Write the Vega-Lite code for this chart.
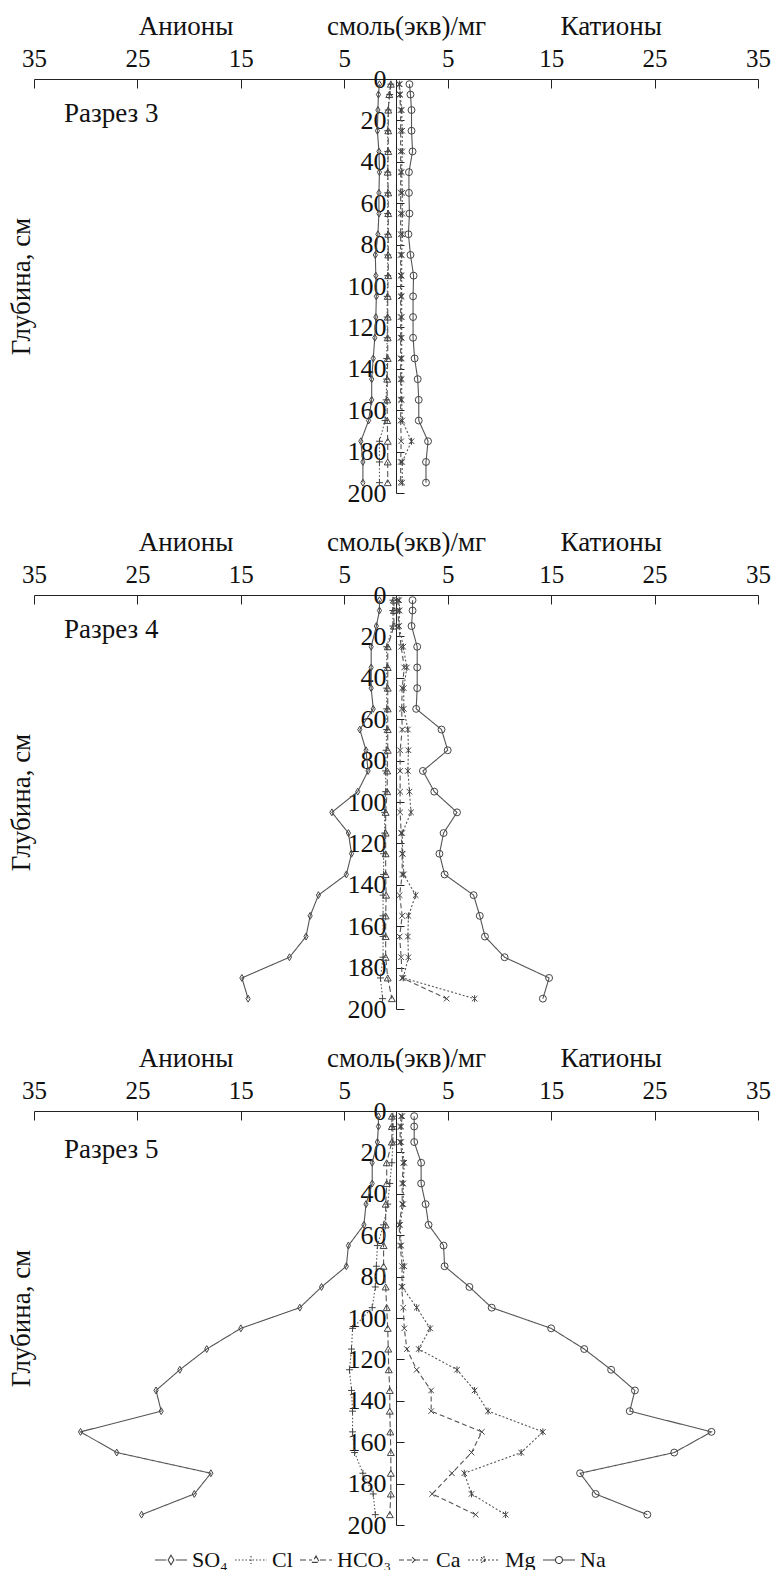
{
"$schema": "https://vega.github.io/schema/vega-lite/v6.json",
"background": "white",
"padding": {"left": 7, "top": 12, "right": 0, "bottom": 0},
"bounds": "flush",
"spacing": 102,
"config": {
  "font": "Liberation Serif",
  "view": {"stroke": null},
  "axis": {"labelFont": "Liberation Serif", "titleFont": "Liberation Serif", "labelFontSize": 25, "titleFontSize": 27, "labelColor": "#111", "titleColor": "#111", "domainColor": "#222", "tickColor": "#222", "grid": false, "titleFontWeight": "normal", "domainWidth": 1, "tickWidth": 1},
  "legend": {"labelFont": "Liberation Serif"},
  "text": {"font": "Liberation Serif"}
},
"datasets": {
"notes": [
{"panel":3,"kind":"section","label":"Разрез 3","x":-32.1,"depth":17},
{"panel":4,"kind":"section","label":"Разрез 4","x":-32.1,"depth":17},
{"panel":5,"kind":"section","label":"Разрез 5","x":-32.1,"depth":19},
{"panel":3,"kind":"head","label":"Анионы","x":-20.3,"depth":-25},
{"panel":3,"kind":"head","label":"Катионы","x":20.8,"depth":-25},
{"panel":4,"kind":"head","label":"Анионы","x":-20.3,"depth":-25},
{"panel":4,"kind":"head","label":"Катионы","x":20.8,"depth":-25},
{"panel":5,"kind":"head","label":"Анионы","x":-20.3,"depth":-25},
{"panel":5,"kind":"head","label":"Катионы","x":20.8,"depth":-25}
],
"ions": [
{"panel":3,"ion":"SO₄","depth":2.5,"value":-1.6},{"panel":3,"ion":"SO₄","depth":7.5,"value":-1.7},{"panel":3,"ion":"SO₄","depth":15,"value":-1.75},{"panel":3,"ion":"SO₄","depth":25,"value":-1.8},{"panel":3,"ion":"SO₄","depth":35,"value":-1.65},{"panel":3,"ion":"SO₄","depth":45,"value":-1.6},{"panel":3,"ion":"SO₄","depth":55,"value":-1.65},{"panel":3,"ion":"SO₄","depth":65,"value":-1.65},{"panel":3,"ion":"SO₄","depth":75,"value":-1.75},{"panel":3,"ion":"SO₄","depth":85,"value":-2.0},{"panel":3,"ion":"SO₄","depth":95,"value":-1.95},{"panel":3,"ion":"SO₄","depth":105,"value":-1.9},{"panel":3,"ion":"SO₄","depth":115,"value":-1.95},{"panel":3,"ion":"SO₄","depth":125,"value":-2.05},{"panel":3,"ion":"SO₄","depth":135,"value":-2.2},{"panel":3,"ion":"SO₄","depth":145,"value":-2.35},{"panel":3,"ion":"SO₄","depth":155,"value":-2.35},{"panel":3,"ion":"SO₄","depth":165,"value":-2.65},{"panel":3,"ion":"SO₄","depth":175,"value":-3.4},{"panel":3,"ion":"SO₄","depth":185,"value":-3.2},{"panel":3,"ion":"SO₄","depth":195,"value":-3.2},
{"panel":3,"ion":"Cl","depth":2.5,"value":-0.5},{"panel":3,"ion":"Cl","depth":7.5,"value":-0.6},{"panel":3,"ion":"Cl","depth":15,"value":-0.75},{"panel":3,"ion":"Cl","depth":25,"value":-0.8},{"panel":3,"ion":"Cl","depth":35,"value":-0.8},{"panel":3,"ion":"Cl","depth":45,"value":-0.8},{"panel":3,"ion":"Cl","depth":55,"value":-0.8},{"panel":3,"ion":"Cl","depth":65,"value":-0.8},{"panel":3,"ion":"Cl","depth":75,"value":-0.8},{"panel":3,"ion":"Cl","depth":85,"value":-0.8},{"panel":3,"ion":"Cl","depth":95,"value":-0.8},{"panel":3,"ion":"Cl","depth":105,"value":-0.85},{"panel":3,"ion":"Cl","depth":115,"value":-0.85},{"panel":3,"ion":"Cl","depth":125,"value":-0.85},{"panel":3,"ion":"Cl","depth":135,"value":-0.9},{"panel":3,"ion":"Cl","depth":145,"value":-0.9},{"panel":3,"ion":"Cl","depth":155,"value":-0.95},{"panel":3,"ion":"Cl","depth":165,"value":-1.05},{"panel":3,"ion":"Cl","depth":175,"value":-1.6},{"panel":3,"ion":"Cl","depth":185,"value":-1.6},{"panel":3,"ion":"Cl","depth":195,"value":-1.6},
{"panel":3,"ion":"HCO₃","depth":2.5,"value":-0.5},{"panel":3,"ion":"HCO₃","depth":7.5,"value":-0.65},{"panel":3,"ion":"HCO₃","depth":15,"value":-0.75},{"panel":3,"ion":"HCO₃","depth":25,"value":-0.75},{"panel":3,"ion":"HCO₃","depth":35,"value":-0.75},{"panel":3,"ion":"HCO₃","depth":45,"value":-0.8},{"panel":3,"ion":"HCO₃","depth":55,"value":-0.75},{"panel":3,"ion":"HCO₃","depth":65,"value":-0.75},{"panel":3,"ion":"HCO₃","depth":75,"value":-0.75},{"panel":3,"ion":"HCO₃","depth":85,"value":-0.75},{"panel":3,"ion":"HCO₃","depth":95,"value":-0.75},{"panel":3,"ion":"HCO₃","depth":105,"value":-0.8},{"panel":3,"ion":"HCO₃","depth":115,"value":-0.8},{"panel":3,"ion":"HCO₃","depth":125,"value":-0.8},{"panel":3,"ion":"HCO₃","depth":135,"value":-0.8},{"panel":3,"ion":"HCO₃","depth":145,"value":-0.85},{"panel":3,"ion":"HCO₃","depth":155,"value":-0.85},{"panel":3,"ion":"HCO₃","depth":165,"value":-0.85},{"panel":3,"ion":"HCO₃","depth":175,"value":-0.8},{"panel":3,"ion":"HCO₃","depth":185,"value":-0.8},{"panel":3,"ion":"HCO₃","depth":195,"value":-0.8},
{"panel":3,"ion":"Ca","depth":2.5,"value":0.3},{"panel":3,"ion":"Ca","depth":7.5,"value":0.35},{"panel":3,"ion":"Ca","depth":15,"value":0.45},{"panel":3,"ion":"Ca","depth":25,"value":0.45},{"panel":3,"ion":"Ca","depth":35,"value":0.45},{"panel":3,"ion":"Ca","depth":45,"value":0.45},{"panel":3,"ion":"Ca","depth":55,"value":0.45},{"panel":3,"ion":"Ca","depth":65,"value":0.45},{"panel":3,"ion":"Ca","depth":75,"value":0.45},{"panel":3,"ion":"Ca","depth":85,"value":0.45},{"panel":3,"ion":"Ca","depth":95,"value":0.45},{"panel":3,"ion":"Ca","depth":105,"value":0.45},{"panel":3,"ion":"Ca","depth":115,"value":0.45},{"panel":3,"ion":"Ca","depth":125,"value":0.45},{"panel":3,"ion":"Ca","depth":135,"value":0.45},{"panel":3,"ion":"Ca","depth":145,"value":0.45},{"panel":3,"ion":"Ca","depth":155,"value":0.45},{"panel":3,"ion":"Ca","depth":165,"value":0.45},{"panel":3,"ion":"Ca","depth":175,"value":0.5},{"panel":3,"ion":"Ca","depth":185,"value":0.45},{"panel":3,"ion":"Ca","depth":195,"value":0.45},
{"panel":3,"ion":"Mg","depth":2.5,"value":0.35},{"panel":3,"ion":"Mg","depth":7.5,"value":0.4},{"panel":3,"ion":"Mg","depth":15,"value":0.55},{"panel":3,"ion":"Mg","depth":25,"value":0.6},{"panel":3,"ion":"Mg","depth":35,"value":0.6},{"panel":3,"ion":"Mg","depth":45,"value":0.55},{"panel":3,"ion":"Mg","depth":55,"value":0.6},{"panel":3,"ion":"Mg","depth":65,"value":0.6},{"panel":3,"ion":"Mg","depth":75,"value":0.6},{"panel":3,"ion":"Mg","depth":85,"value":0.55},{"panel":3,"ion":"Mg","depth":95,"value":0.55},{"panel":3,"ion":"Mg","depth":105,"value":0.55},{"panel":3,"ion":"Mg","depth":115,"value":0.55},{"panel":3,"ion":"Mg","depth":125,"value":0.55},{"panel":3,"ion":"Mg","depth":135,"value":0.55},{"panel":3,"ion":"Mg","depth":145,"value":0.55},{"panel":3,"ion":"Mg","depth":155,"value":0.55},{"panel":3,"ion":"Mg","depth":165,"value":0.6},{"panel":3,"ion":"Mg","depth":175,"value":1.5},{"panel":3,"ion":"Mg","depth":185,"value":0.6},{"panel":3,"ion":"Mg","depth":195,"value":0.6},
{"panel":3,"ion":"Na","depth":2.5,"value":1.3},{"panel":3,"ion":"Na","depth":7.5,"value":1.4},{"panel":3,"ion":"Na","depth":15,"value":1.5},{"panel":3,"ion":"Na","depth":25,"value":1.5},{"panel":3,"ion":"Na","depth":35,"value":1.6},{"panel":3,"ion":"Na","depth":45,"value":1.25},{"panel":3,"ion":"Na","depth":55,"value":1.25},{"panel":3,"ion":"Na","depth":65,"value":1.3},{"panel":3,"ion":"Na","depth":75,"value":1.2},{"panel":3,"ion":"Na","depth":85,"value":1.4},{"panel":3,"ion":"Na","depth":95,"value":1.7},{"panel":3,"ion":"Na","depth":105,"value":1.65},{"panel":3,"ion":"Na","depth":115,"value":1.65},{"panel":3,"ion":"Na","depth":125,"value":1.65},{"panel":3,"ion":"Na","depth":135,"value":1.8},{"panel":3,"ion":"Na","depth":145,"value":2.1},{"panel":3,"ion":"Na","depth":155,"value":2.2},{"panel":3,"ion":"Na","depth":165,"value":2.2},{"panel":3,"ion":"Na","depth":175,"value":3.1},{"panel":3,"ion":"Na","depth":185,"value":2.9},{"panel":3,"ion":"Na","depth":195,"value":2.9},
{"panel":4,"ion":"SO₄","depth":2.5,"value":-1.6},{"panel":4,"ion":"SO₄","depth":7.5,"value":-1.6},{"panel":4,"ion":"SO₄","depth":15,"value":-1.9},{"panel":4,"ion":"SO₄","depth":25,"value":-2.4},{"panel":4,"ion":"SO₄","depth":35,"value":-2.4},{"panel":4,"ion":"SO₄","depth":45,"value":-2.4},{"panel":4,"ion":"SO₄","depth":55,"value":-2.2},{"panel":4,"ion":"SO₄","depth":65,"value":-3.5},{"panel":4,"ion":"SO₄","depth":75,"value":-2.9},{"panel":4,"ion":"SO₄","depth":85,"value":-2.7},{"panel":4,"ion":"SO₄","depth":95,"value":-3.7},{"panel":4,"ion":"SO₄","depth":105,"value":-6.2},{"panel":4,"ion":"SO₄","depth":115,"value":-4.6},{"panel":4,"ion":"SO₄","depth":125,"value":-4.3},{"panel":4,"ion":"SO₄","depth":135,"value":-4.8},{"panel":4,"ion":"SO₄","depth":145,"value":-7.5},{"panel":4,"ion":"SO₄","depth":155,"value":-8.3},{"panel":4,"ion":"SO₄","depth":165,"value":-8.7},{"panel":4,"ion":"SO₄","depth":175,"value":-10.3},{"panel":4,"ion":"SO₄","depth":185,"value":-14.9},{"panel":4,"ion":"SO₄","depth":195,"value":-14.3},
{"panel":4,"ion":"Cl","depth":2.5,"value":-0.3},{"panel":4,"ion":"Cl","depth":7.5,"value":-0.3},{"panel":4,"ion":"Cl","depth":15,"value":-0.3},{"panel":4,"ion":"Cl","depth":25,"value":-0.9},{"panel":4,"ion":"Cl","depth":35,"value":-0.9},{"panel":4,"ion":"Cl","depth":45,"value":-0.9},{"panel":4,"ion":"Cl","depth":55,"value":-0.9},{"panel":4,"ion":"Cl","depth":65,"value":-0.9},{"panel":4,"ion":"Cl","depth":75,"value":-0.95},{"panel":4,"ion":"Cl","depth":85,"value":-1.0},{"panel":4,"ion":"Cl","depth":95,"value":-1.0},{"panel":4,"ion":"Cl","depth":105,"value":-1.1},{"panel":4,"ion":"Cl","depth":115,"value":-1.1},{"panel":4,"ion":"Cl","depth":125,"value":-1.2},{"panel":4,"ion":"Cl","depth":135,"value":-1.2},{"panel":4,"ion":"Cl","depth":145,"value":-1.25},{"panel":4,"ion":"Cl","depth":155,"value":-1.25},{"panel":4,"ion":"Cl","depth":165,"value":-1.25},{"panel":4,"ion":"Cl","depth":175,"value":-1.25},{"panel":4,"ion":"Cl","depth":185,"value":-1.5},{"panel":4,"ion":"Cl","depth":195,"value":-1.3},
{"panel":4,"ion":"HCO₃","depth":2.5,"value":-0.2},{"panel":4,"ion":"HCO₃","depth":7.5,"value":-0.2},{"panel":4,"ion":"HCO₃","depth":15,"value":-0.2},{"panel":4,"ion":"HCO₃","depth":25,"value":-0.8},{"panel":4,"ion":"HCO₃","depth":35,"value":-0.8},{"panel":4,"ion":"HCO₃","depth":45,"value":-0.8},{"panel":4,"ion":"HCO₃","depth":55,"value":-0.8},{"panel":4,"ion":"HCO₃","depth":65,"value":-0.8},{"panel":4,"ion":"HCO₃","depth":75,"value":-0.8},{"panel":4,"ion":"HCO₃","depth":85,"value":-0.85},{"panel":4,"ion":"HCO₃","depth":95,"value":-0.85},{"panel":4,"ion":"HCO₃","depth":105,"value":-1.0},{"panel":4,"ion":"HCO₃","depth":115,"value":-1.0},{"panel":4,"ion":"HCO₃","depth":125,"value":-1.0},{"panel":4,"ion":"HCO₃","depth":135,"value":-1.0},{"panel":4,"ion":"HCO₃","depth":145,"value":-0.95},{"panel":4,"ion":"HCO₃","depth":155,"value":-1.0},{"panel":4,"ion":"HCO₃","depth":165,"value":-1.0},{"panel":4,"ion":"HCO₃","depth":175,"value":-1.0},{"panel":4,"ion":"HCO₃","depth":185,"value":-0.8},{"panel":4,"ion":"HCO₃","depth":195,"value":-0.4},
{"panel":4,"ion":"Ca","depth":2.5,"value":0.2},{"panel":4,"ion":"Ca","depth":7.5,"value":0.2},{"panel":4,"ion":"Ca","depth":15,"value":0.25},{"panel":4,"ion":"Ca","depth":25,"value":0.5},{"panel":4,"ion":"Ca","depth":35,"value":0.8},{"panel":4,"ion":"Ca","depth":45,"value":0.6},{"panel":4,"ion":"Ca","depth":55,"value":0.55},{"panel":4,"ion":"Ca","depth":65,"value":0.6},{"panel":4,"ion":"Ca","depth":75,"value":0.4},{"panel":4,"ion":"Ca","depth":85,"value":0.4},{"panel":4,"ion":"Ca","depth":95,"value":0.4},{"panel":4,"ion":"Ca","depth":105,"value":0.4},{"panel":4,"ion":"Ca","depth":115,"value":0.5},{"panel":4,"ion":"Ca","depth":125,"value":0.6},{"panel":4,"ion":"Ca","depth":135,"value":0.6},{"panel":4,"ion":"Ca","depth":145,"value":0.35},{"panel":4,"ion":"Ca","depth":155,"value":0.6},{"panel":4,"ion":"Ca","depth":165,"value":0.35},{"panel":4,"ion":"Ca","depth":175,"value":0.5},{"panel":4,"ion":"Ca","depth":185,"value":0.6},{"panel":4,"ion":"Ca","depth":195,"value":4.9},
{"panel":4,"ion":"Mg","depth":2.5,"value":0.3},{"panel":4,"ion":"Mg","depth":7.5,"value":0.35},{"panel":4,"ion":"Mg","depth":15,"value":0.3},{"panel":4,"ion":"Mg","depth":25,"value":0.7},{"panel":4,"ion":"Mg","depth":35,"value":1.05},{"panel":4,"ion":"Mg","depth":45,"value":0.75},{"panel":4,"ion":"Mg","depth":55,"value":0.75},{"panel":4,"ion":"Mg","depth":65,"value":1.15},{"panel":4,"ion":"Mg","depth":75,"value":1.2},{"panel":4,"ion":"Mg","depth":85,"value":1.15},{"panel":4,"ion":"Mg","depth":95,"value":1.3},{"panel":4,"ion":"Mg","depth":105,"value":1.45},{"panel":4,"ion":"Mg","depth":115,"value":0.6},{"panel":4,"ion":"Mg","depth":125,"value":0.65},{"panel":4,"ion":"Mg","depth":135,"value":0.75},{"panel":4,"ion":"Mg","depth":145,"value":1.9},{"panel":4,"ion":"Mg","depth":155,"value":1.2},{"panel":4,"ion":"Mg","depth":165,"value":1.15},{"panel":4,"ion":"Mg","depth":175,"value":1.2},{"panel":4,"ion":"Mg","depth":185,"value":0.7},{"panel":4,"ion":"Mg","depth":195,"value":7.6},
{"panel":4,"ion":"Na","depth":2.5,"value":1.6},{"panel":4,"ion":"Na","depth":7.5,"value":1.6},{"panel":4,"ion":"Na","depth":15,"value":1.5},{"panel":4,"ion":"Na","depth":25,"value":2.05},{"panel":4,"ion":"Na","depth":35,"value":2.05},{"panel":4,"ion":"Na","depth":45,"value":2.05},{"panel":4,"ion":"Na","depth":55,"value":1.95},{"panel":4,"ion":"Na","depth":65,"value":4.4},{"panel":4,"ion":"Na","depth":75,"value":5.0},{"panel":4,"ion":"Na","depth":85,"value":2.6},{"panel":4,"ion":"Na","depth":95,"value":3.7},{"panel":4,"ion":"Na","depth":105,"value":5.9},{"panel":4,"ion":"Na","depth":115,"value":4.6},{"panel":4,"ion":"Na","depth":125,"value":4.2},{"panel":4,"ion":"Na","depth":135,"value":4.7},{"panel":4,"ion":"Na","depth":145,"value":7.5},{"panel":4,"ion":"Na","depth":155,"value":8.1},{"panel":4,"ion":"Na","depth":165,"value":8.6},{"panel":4,"ion":"Na","depth":175,"value":10.5},{"panel":4,"ion":"Na","depth":185,"value":14.8},{"panel":4,"ion":"Na","depth":195,"value":14.2},
{"panel":5,"ion":"SO₄","depth":2.5,"value":-1.7},{"panel":5,"ion":"SO₄","depth":7.5,"value":-1.7},{"panel":5,"ion":"SO₄","depth":15,"value":-1.8},{"panel":5,"ion":"SO₄","depth":25,"value":-2.3},{"panel":5,"ion":"SO₄","depth":35,"value":-2.3},{"panel":5,"ion":"SO₄","depth":45,"value":-2.9},{"panel":5,"ion":"SO₄","depth":55,"value":-3.1},{"panel":5,"ion":"SO₄","depth":65,"value":-4.6},{"panel":5,"ion":"SO₄","depth":75,"value":-4.8},{"panel":5,"ion":"SO₄","depth":85,"value":-7.2},{"panel":5,"ion":"SO₄","depth":95,"value":-9.3},{"panel":5,"ion":"SO₄","depth":105,"value":-15.0},{"panel":5,"ion":"SO₄","depth":115,"value":-18.3},{"panel":5,"ion":"SO₄","depth":125,"value":-20.9},{"panel":5,"ion":"SO₄","depth":135,"value":-23.2},{"panel":5,"ion":"SO₄","depth":145,"value":-22.7},{"panel":5,"ion":"SO₄","depth":155,"value":-30.5},{"panel":5,"ion":"SO₄","depth":165,"value":-27.0},{"panel":5,"ion":"SO₄","depth":175,"value":-17.9},{"panel":5,"ion":"SO₄","depth":185,"value":-19.5},{"panel":5,"ion":"SO₄","depth":195,"value":-24.6},
{"panel":5,"ion":"Cl","depth":2.5,"value":-0.3},{"panel":5,"ion":"Cl","depth":7.5,"value":-0.3},{"panel":5,"ion":"Cl","depth":15,"value":-0.3},{"panel":5,"ion":"Cl","depth":25,"value":-0.4},{"panel":5,"ion":"Cl","depth":35,"value":-0.6},{"panel":5,"ion":"Cl","depth":45,"value":-0.8},{"panel":5,"ion":"Cl","depth":55,"value":-1.2},{"panel":5,"ion":"Cl","depth":65,"value":-1.8},{"panel":5,"ion":"Cl","depth":75,"value":-1.9},{"panel":5,"ion":"Cl","depth":85,"value":-2.0},{"panel":5,"ion":"Cl","depth":95,"value":-2.3},{"panel":5,"ion":"Cl","depth":105,"value":-4.2},{"panel":5,"ion":"Cl","depth":115,"value":-4.3},{"panel":5,"ion":"Cl","depth":125,"value":-4.5},{"panel":5,"ion":"Cl","depth":135,"value":-4.3},{"panel":5,"ion":"Cl","depth":145,"value":-4.2},{"panel":5,"ion":"Cl","depth":155,"value":-4.2},{"panel":5,"ion":"Cl","depth":165,"value":-4.0},{"panel":5,"ion":"Cl","depth":175,"value":-3.2},{"panel":5,"ion":"Cl","depth":185,"value":-2.2},{"panel":5,"ion":"Cl","depth":195,"value":-2.0},
{"panel":5,"ion":"HCO₃","depth":2.5,"value":-0.4},{"panel":5,"ion":"HCO₃","depth":7.5,"value":-0.4},{"panel":5,"ion":"HCO₃","depth":15,"value":-0.4},{"panel":5,"ion":"HCO₃","depth":25,"value":-0.9},{"panel":5,"ion":"HCO₃","depth":35,"value":-0.9},{"panel":5,"ion":"HCO₃","depth":45,"value":-1.0},{"panel":5,"ion":"HCO₃","depth":55,"value":-1.0},{"panel":5,"ion":"HCO₃","depth":65,"value":-1.2},{"panel":5,"ion":"HCO₃","depth":75,"value":-1.2},{"panel":5,"ion":"HCO₃","depth":85,"value":-1.0},{"panel":5,"ion":"HCO₃","depth":95,"value":-0.9},{"panel":5,"ion":"HCO₃","depth":105,"value":-0.8},{"panel":5,"ion":"HCO₃","depth":115,"value":-0.75},{"panel":5,"ion":"HCO₃","depth":125,"value":-0.7},{"panel":5,"ion":"HCO₃","depth":135,"value":-0.6},{"panel":5,"ion":"HCO₃","depth":145,"value":-0.6},{"panel":5,"ion":"HCO₃","depth":155,"value":-0.55},{"panel":5,"ion":"HCO₃","depth":165,"value":-0.5},{"panel":5,"ion":"HCO₃","depth":175,"value":-0.5},{"panel":5,"ion":"HCO₃","depth":185,"value":-0.5},{"panel":5,"ion":"HCO₃","depth":195,"value":-0.6},
{"panel":5,"ion":"Ca","depth":2.5,"value":0.5},{"panel":5,"ion":"Ca","depth":7.5,"value":0.4},{"panel":5,"ion":"Ca","depth":15,"value":0.4},{"panel":5,"ion":"Ca","depth":25,"value":0.7},{"panel":5,"ion":"Ca","depth":35,"value":0.6},{"panel":5,"ion":"Ca","depth":45,"value":0.6},{"panel":5,"ion":"Ca","depth":55,"value":0.3},{"panel":5,"ion":"Ca","depth":65,"value":0.4},{"panel":5,"ion":"Ca","depth":75,"value":0.6},{"panel":5,"ion":"Ca","depth":85,"value":0.55},{"panel":5,"ion":"Ca","depth":95,"value":0.7},{"panel":5,"ion":"Ca","depth":105,"value":0.8},{"panel":5,"ion":"Ca","depth":115,"value":1.05},{"panel":5,"ion":"Ca","depth":125,"value":2.0},{"panel":5,"ion":"Ca","depth":135,"value":3.4},{"panel":5,"ion":"Ca","depth":145,"value":3.4},{"panel":5,"ion":"Ca","depth":155,"value":8.3},{"panel":5,"ion":"Ca","depth":165,"value":7.3},{"panel":5,"ion":"Ca","depth":175,"value":5.4},{"panel":5,"ion":"Ca","depth":185,"value":3.5},{"panel":5,"ion":"Ca","depth":195,"value":7.7},
{"panel":5,"ion":"Mg","depth":2.5,"value":0.6},{"panel":5,"ion":"Mg","depth":7.5,"value":0.5},{"panel":5,"ion":"Mg","depth":15,"value":0.5},{"panel":5,"ion":"Mg","depth":25,"value":0.8},{"panel":5,"ion":"Mg","depth":35,"value":0.7},{"panel":5,"ion":"Mg","depth":45,"value":0.7},{"panel":5,"ion":"Mg","depth":55,"value":0.4},{"panel":5,"ion":"Mg","depth":65,"value":0.5},{"panel":5,"ion":"Mg","depth":75,"value":0.8},{"panel":5,"ion":"Mg","depth":85,"value":0.6},{"panel":5,"ion":"Mg","depth":95,"value":2.0},{"panel":5,"ion":"Mg","depth":105,"value":3.3},{"panel":5,"ion":"Mg","depth":115,"value":2.2},{"panel":5,"ion":"Mg","depth":125,"value":5.9},{"panel":5,"ion":"Mg","depth":135,"value":7.6},{"panel":5,"ion":"Mg","depth":145,"value":8.9},{"panel":5,"ion":"Mg","depth":155,"value":14.2},{"panel":5,"ion":"Mg","depth":165,"value":12.1},{"panel":5,"ion":"Mg","depth":175,"value":6.6},{"panel":5,"ion":"Mg","depth":185,"value":7.3},{"panel":5,"ion":"Mg","depth":195,"value":10.6},
{"panel":5,"ion":"Na","depth":2.5,"value":1.76},{"panel":5,"ion":"Na","depth":7.5,"value":1.76},{"panel":5,"ion":"Na","depth":15,"value":1.76},{"panel":5,"ion":"Na","depth":25,"value":2.43},{"panel":5,"ion":"Na","depth":35,"value":2.43},{"panel":5,"ion":"Na","depth":45,"value":2.86},{"panel":5,"ion":"Na","depth":55,"value":3.15},{"panel":5,"ion":"Na","depth":65,"value":4.6},{"panel":5,"ion":"Na","depth":75,"value":4.7},{"panel":5,"ion":"Na","depth":85,"value":7.1},{"panel":5,"ion":"Na","depth":95,"value":9.25},{"panel":5,"ion":"Na","depth":105,"value":15.0},{"panel":5,"ion":"Na","depth":115,"value":18.2},{"panel":5,"ion":"Na","depth":125,"value":20.8},{"panel":5,"ion":"Na","depth":135,"value":23.1},{"panel":5,"ion":"Na","depth":145,"value":22.6},{"panel":5,"ion":"Na","depth":155,"value":30.5},{"panel":5,"ion":"Na","depth":165,"value":26.9},{"panel":5,"ion":"Na","depth":175,"value":17.8},{"panel":5,"ion":"Na","depth":185,"value":19.3},{"panel":5,"ion":"Na","depth":195,"value":24.3}
]
},
"vconcat": [
{
 "width": 724, "height": 414,
 "layer": [
  {"data": {"name": "ions"}, "transform": [{"filter": "datum.panel == 3"}],
   "mark": {"type": "line", "color": "#555", "strokeWidth": 1.1},
   "encoding": {
     "x": {"field": "value", "type": "quantitative", "scale": {"domain": [-35, 35], "nice": false, "zero": false},
       "axis": {"orient": "top", "values": [-35,-25,-15,-5,5,15,25,35], "labelExpr": "abs(datum.value)", "tickSize": -9, "labelPadding": 30, "labelBaseline": "middle", "labelFlush": false, "labelOverlap": false, "title": "смоль(экв)/мг", "titleX": 372, "titleY": -53, "titleBaseline": "middle", "titleAlign": "center"}},
     "y": {"field": "depth", "type": "quantitative", "scale": {"domain": [0, 200], "nice": false, "zero": false, "reverse": true},
       "axis": {"orient": "left", "offset": -362, "values": [0,20,40,60,80,100,120,140,160,180,200], "tickSize": -8, "labelPadding": 18, "labelFontSize": 26, "labelBaseline": "middle", "labelFlush": false, "labelOverlap": false, "title": "Глубина, см", "titleX": -375, "titleY": 207, "titleAngle": -90, "titleBaseline": "middle", "titleAlign": "center"}},
     "strokeDash": {"field": "ion", "type": "nominal", "scale": {"domain": ["SO₄","Cl","HCO₃","Ca","Mg","Na"], "range": [[1,0],[1.5,2],[6,3],[5,3],[2,2],[1,0]]}, "legend": null},
     "order": {"field": "depth", "type": "quantitative"}}},
  {"data": {"name": "ions"}, "transform": [{"filter": "datum.panel == 3"}],
   "mark": {"type": "point", "filled": false, "color": "#444", "size": 48, "strokeWidth": 1, "opacity": 1},
   "encoding": {
     "x": {"field": "value", "type": "quantitative"},
     "y": {"field": "depth", "type": "quantitative"},
     "shape": {"field": "ion", "type": "nominal", "scale": {"domain": ["SO₄","Cl","HCO₃","Ca","Mg","Na"], "range": ["M0,-1L0.6,0L0,1L-0.6,0Z","M-1,0H1M0,-1V1","triangle-up","M-0.8,-0.8L0.8,0.8M-0.8,0.8L0.8,-0.8","M-0.8,-0.8L0.8,0.8M-0.8,0.8L0.8,-0.8M0,-1V1","circle"]}, "legend": null}}},
  {"data": {"name": "notes"}, "transform": [{"filter": "datum.panel == 3 && datum.kind == 'section'"}],
   "mark": {"type": "text", "align": "left", "baseline": "middle", "fontSize": 27, "color": "#111"},
   "encoding": {"x": {"field": "x", "type": "quantitative"}, "y": {"field": "depth", "type": "quantitative"}, "text": {"field": "label"}}},
  {"data": {"name": "notes"}, "transform": [{"filter": "datum.panel == 3 && datum.kind == 'head'"}],
   "mark": {"type": "text", "align": "center", "baseline": "middle", "fontSize": 27, "color": "#111"},
   "encoding": {"x": {"field": "x", "type": "quantitative"}, "y": {"field": "depth", "type": "quantitative"}, "text": {"field": "label"}}}
 ]
},
{
 "width": 724, "height": 414,
 "layer": [
  {"data": {"name": "ions"}, "transform": [{"filter": "datum.panel == 4"}],
   "mark": {"type": "line", "color": "#555", "strokeWidth": 1.1},
   "encoding": {
     "x": {"field": "value", "type": "quantitative", "scale": {"domain": [-35, 35], "nice": false, "zero": false},
       "axis": {"orient": "top", "values": [-35,-25,-15,-5,5,15,25,35], "labelExpr": "abs(datum.value)", "tickSize": -9, "labelPadding": 30, "labelBaseline": "middle", "labelFlush": false, "labelOverlap": false, "title": "смоль(экв)/мг", "titleX": 372, "titleY": -53, "titleBaseline": "middle", "titleAlign": "center"}},
     "y": {"field": "depth", "type": "quantitative", "scale": {"domain": [0, 200], "nice": false, "zero": false, "reverse": true},
       "axis": {"orient": "left", "offset": -362, "values": [0,20,40,60,80,100,120,140,160,180,200], "tickSize": -8, "labelPadding": 18, "labelFontSize": 26, "labelBaseline": "middle", "labelFlush": false, "labelOverlap": false, "title": "Глубина, см", "titleX": -375, "titleY": 207, "titleAngle": -90, "titleBaseline": "middle", "titleAlign": "center"}},
     "strokeDash": {"field": "ion", "type": "nominal", "scale": {"domain": ["SO₄","Cl","HCO₃","Ca","Mg","Na"], "range": [[1,0],[1.5,2],[6,3],[5,3],[2,2],[1,0]]}, "legend": null},
     "order": {"field": "depth", "type": "quantitative"}}},
  {"data": {"name": "ions"}, "transform": [{"filter": "datum.panel == 4"}],
   "mark": {"type": "point", "filled": false, "color": "#444", "size": 48, "strokeWidth": 1, "opacity": 1},
   "encoding": {
     "x": {"field": "value", "type": "quantitative"},
     "y": {"field": "depth", "type": "quantitative"},
     "shape": {"field": "ion", "type": "nominal", "scale": {"domain": ["SO₄","Cl","HCO₃","Ca","Mg","Na"], "range": ["M0,-1L0.6,0L0,1L-0.6,0Z","M-1,0H1M0,-1V1","triangle-up","M-0.8,-0.8L0.8,0.8M-0.8,0.8L0.8,-0.8","M-0.8,-0.8L0.8,0.8M-0.8,0.8L0.8,-0.8M0,-1V1","circle"]}, "legend": null}}},
  {"data": {"name": "notes"}, "transform": [{"filter": "datum.panel == 4 && datum.kind == 'section'"}],
   "mark": {"type": "text", "align": "left", "baseline": "middle", "fontSize": 27, "color": "#111"},
   "encoding": {"x": {"field": "x", "type": "quantitative"}, "y": {"field": "depth", "type": "quantitative"}, "text": {"field": "label"}}},
  {"data": {"name": "notes"}, "transform": [{"filter": "datum.panel == 4 && datum.kind == 'head'"}],
   "mark": {"type": "text", "align": "center", "baseline": "middle", "fontSize": 27, "color": "#111"},
   "encoding": {"x": {"field": "x", "type": "quantitative"}, "y": {"field": "depth", "type": "quantitative"}, "text": {"field": "label"}}}
 ]
},
{
 "width": 724, "height": 414,
 "resolve": {"scale": {"shape": "independent", "strokeDash": "independent"}},
 "layer": [
  {"data": {"name": "ions"}, "transform": [{"filter": "datum.panel == 5"}],
   "mark": {"type": "line", "color": "#555", "strokeWidth": 1.1},
   "encoding": {
     "x": {"field": "value", "type": "quantitative", "scale": {"domain": [-35, 35], "nice": false, "zero": false},
       "axis": {"orient": "top", "values": [-35,-25,-15,-5,5,15,25,35], "labelExpr": "abs(datum.value)", "tickSize": -9, "labelPadding": 30, "labelBaseline": "middle", "labelFlush": false, "labelOverlap": false, "title": "смоль(экв)/мг", "titleX": 372, "titleY": -53, "titleBaseline": "middle", "titleAlign": "center"}},
     "y": {"field": "depth", "type": "quantitative", "scale": {"domain": [0, 200], "nice": false, "zero": false, "reverse": true},
       "axis": {"orient": "left", "offset": -362, "values": [0,20,40,60,80,100,120,140,160,180,200], "tickSize": -8, "labelPadding": 18, "labelFontSize": 26, "labelBaseline": "middle", "labelFlush": false, "labelOverlap": false, "title": "Глубина, см", "titleX": -375, "titleY": 207, "titleAngle": -90, "titleBaseline": "middle", "titleAlign": "center"}},
     "strokeDash": {"field": "ion", "type": "nominal", "scale": {"domain": ["SO₄","Cl","HCO₃","Ca","Mg","Na"], "range": [[1,0],[1.5,2],[6,3],[5,3],[2,2],[1,0]]}, "legend": null},
     "order": {"field": "depth", "type": "quantitative"}}},
  {"data": {"name": "ions"}, "transform": [{"filter": "datum.panel == 5"}],
   "mark": {"type": "point", "filled": false, "color": "#444", "size": 48, "strokeWidth": 1, "opacity": 1},
   "encoding": {
     "x": {"field": "value", "type": "quantitative"},
     "y": {"field": "depth", "type": "quantitative"},
     "shape": {"field": "ion", "type": "nominal", "scale": {"domain": ["SO₄","Cl","HCO₃","Ca","Mg","Na"], "range": ["M0,-1L0.6,0L0,1L-0.6,0Z","M-1,0H1M0,-1V1","triangle-up","M-0.8,-0.8L0.8,0.8M-0.8,0.8L0.8,-0.8","M-0.8,-0.8L0.8,0.8M-0.8,0.8L0.8,-0.8M0,-1V1","circle"]}, "legend": null}}},
  {"data": {"name": "notes"}, "transform": [{"filter": "datum.panel == 5 && datum.kind == 'section'"}],
   "mark": {"type": "text", "align": "left", "baseline": "middle", "fontSize": 27, "color": "#111"},
   "encoding": {"x": {"field": "x", "type": "quantitative"}, "y": {"field": "depth", "type": "quantitative"}, "text": {"field": "label"}}},
  {"data": {"name": "notes"}, "transform": [{"filter": "datum.panel == 5 && datum.kind == 'head'"}],
   "mark": {"type": "text", "align": "center", "baseline": "middle", "fontSize": 27, "color": "#111"},
   "encoding": {"x": {"field": "x", "type": "quantitative"}, "y": {"field": "depth", "type": "quantitative"}, "text": {"field": "label"}}},
  {"data": {"name": "ions"}, "transform": [{"filter": "datum.panel == 5"}],
   "mark": {"type": "point", "filled": false, "color": "#444", "opacity": 0, "strokeWidth": 1.1},
   "encoding": {
     "x": {"field": "value", "type": "quantitative"},
     "y": {"field": "depth", "type": "quantitative"},
     "shape": {"field": "ion", "type": "nominal", "scale": {"domain": ["SO₄","Cl","HCO₃","Ca","Mg","Na"], "range": ["M-1,0H-0.3M0.3,0H1M0,-0.3L0.18,0L0,0.3L-0.18,0Z","M-1,0H1M0,-0.25V0.25","M-1,0H-0.25M0.25,0H1M0,-0.25L0.22,0.15L-0.22,0.15Z","M-1,0H1M-0.18,-0.18L0.18,0.18M-0.18,0.18L0.18,-0.18","M-1,0H1M-0.18,-0.18L0.18,0.18M-0.18,0.18L0.18,-0.18M0,-0.25V0.25","M-1,0H-0.22M0.22,0H1M0.22,0A0.22,0.22,0,1,1,-0.22,0A0.22,0.22,0,1,1,0.22,0Z"]},
       "legend": {"title": null, "orient": "none", "legendX": 120, "legendY": 432, "direction": "horizontal", "columns": 6, "symbolSize": 1024, "symbolStrokeWidth": 1.1, "symbolOpacity": 1, "labelFontSize": 22, "labelColor": "#111", "labelOffset": 4, "columnPadding": 4}},
     "strokeDash": {"field": "ion", "type": "nominal", "scale": {"domain": ["SO₄","Cl","HCO₃","Ca","Mg","Na"], "range": [[1,0],[1.5,2],[6,3],[5,3],[2,2],[1,0]]},
       "legend": {"title": null, "orient": "none", "legendX": 120, "legendY": 432, "direction": "horizontal", "columns": 6, "symbolSize": 1024, "symbolStrokeWidth": 1.1, "symbolOpacity": 1, "labelFontSize": 22, "labelColor": "#111", "labelOffset": 4, "columnPadding": 4}}}}
 ]
}
]
}
